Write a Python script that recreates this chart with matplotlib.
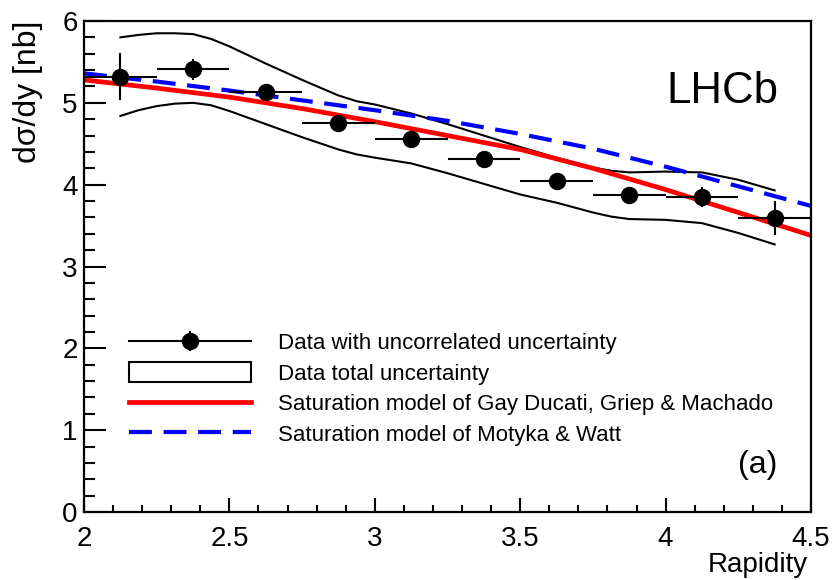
import matplotlib.pyplot as plt
from matplotlib.lines import Line2D
from matplotlib.patches import Patch
from matplotlib.legend_handler import HandlerTuple
from matplotlib.ticker import MultipleLocator, FormatStrFormatter

plt.rcParams['font.family'] = ['Liberation Sans', 'DejaVu Sans']

# Measured cross-section in rapidity bins of width 0.25
bin_centres = [2.125, 2.375, 2.625, 2.875, 3.125, 3.375, 3.625, 3.875, 4.125, 4.375]
bin_half_width = 0.125
xsec = [5.32, 5.41, 5.13, 4.75, 4.56, 4.31, 4.04, 3.87, 3.85, 3.59]
xsec_uncorr = [0.29, 0.13, 0.07, 0.07, 0.07, 0.07, 0.07, 0.07, 0.12, 0.21]

# Total uncertainty envelope
band_x = [2.125, 2.1875, 2.25, 2.3125, 2.375, 2.4375, 2.5, 2.625, 2.75, 2.875,
          2.9375, 3.0, 3.125, 3.25, 3.375, 3.5, 3.625, 3.75, 3.8125, 3.875,
          4.0, 4.125, 4.25, 4.375]
band_upper = [5.80, 5.83, 5.85, 5.85, 5.84, 5.78, 5.69, 5.48, 5.28, 5.09,
              5.02, 4.98, 4.87, 4.74, 4.60, 4.46, 4.33, 4.21, 4.17, 4.15,
              4.16, 4.15, 4.06, 3.93]
band_lower = [4.84, 4.91, 4.96, 4.99, 5.00, 4.97, 4.90, 4.74, 4.58, 4.43,
              4.37, 4.33, 4.26, 4.14, 4.01, 3.88, 3.78, 3.66, 3.61, 3.58,
              3.57, 3.53, 3.41, 3.27]

# Theory predictions
model_x = [2.0, 2.25, 2.5, 2.75, 3.0, 3.25, 3.5, 3.75, 4.0, 4.25, 4.5]
gdgm = [5.28, 5.18, 5.07, 4.93, 4.77, 4.60, 4.43, 4.20, 3.94, 3.66, 3.38]
motyka_watt = [5.36, 5.26, 5.15, 5.03, 4.91, 4.78, 4.62, 4.44, 4.22, 3.98, 3.74]

fig = plt.figure(figsize=(8.36, 5.8), dpi=100)
ax = fig.add_axes([0.1005, 0.1172, 0.8696, 0.8466])

ax.plot(band_x, band_upper, color='black', lw=1.5)
ax.plot(band_x, band_lower, color='black', lw=1.5)
ax.plot(model_x, gdgm, color='#ff0000', lw=3.4, solid_capstyle='butt')
ax.plot(model_x, motyka_watt, color='#0000ff', lw=3.0, dashes=(5.5, 2.8))
ax.errorbar(bin_centres, xsec, xerr=bin_half_width, yerr=xsec_uncorr, fmt='o',
            color='black', ms=11.5, elinewidth=1.5, capsize=0)

ax.set_xlim(2, 4.5)
ax.set_ylim(0, 6)

# ticks inside, only bottom and left
ax.xaxis.set_major_locator(MultipleLocator(0.5))
ax.xaxis.set_minor_locator(MultipleLocator(0.1))
ax.yaxis.set_major_locator(MultipleLocator(1))
ax.yaxis.set_minor_locator(MultipleLocator(0.2))
ax.xaxis.set_major_formatter(FormatStrFormatter('%g'))
ax.tick_params(axis='x', which='major', direction='in', length=10, width=1.5, labelsize=20, pad=10)
ax.tick_params(axis='x', which='minor', direction='in', length=5, width=1.5)
ax.tick_params(axis='y', which='major', direction='in', length=16, width=1.5, labelsize=20, pad=4.5)
ax.tick_params(axis='y', which='minor', direction='in', length=8, width=1.5)
for spine in ax.spines.values():
    spine.set_linewidth(1.6)

ax.set_xlabel('Rapidity', fontsize=20, ha='right')
ax.xaxis.set_label_coords(0.996, -0.081)
ax.set_ylabel('dσ/dy [nb]', fontsize=23, loc='top')
ax.yaxis.set_label_coords(-0.0564, 1.0)

ax.text(0.8015, 0.8324, 'LHCb', transform=ax.transAxes, fontsize=31.5, va='baseline')
ax.text(0.9, 0.0788, '(a)', transform=ax.transAxes, fontsize=23, va='baseline')

# legend handles
data_handle = (Line2D([], [], color='black', lw=1.5),
               Line2D([], [], color='black', marker='|', ms=14, mew=1.5, ls='none'),
               Line2D([], [], color='black', marker='o', ms=11.5, ls='none'))
band_handle = Patch(facecolor='white', edgecolor='black', lw=1.5)
gdgm_handle = Line2D([], [], color='#ff0000', lw=3.4)
mw_handle = Line2D([], [], color='#0000ff', lw=3.0, dashes=(5.5, 2.8))

ax.legend([data_handle, band_handle, gdgm_handle, mw_handle],
          ['Data with uncorrelated uncertainty',
           'Data total uncertainty',
           'Saturation model of Gay Ducati, Griep & Machado',
           'Saturation model of Motyka & Watt'],
          handler_map={tuple: HandlerTuple(ndivide=1, pad=0)},
          loc='upper left', bbox_to_anchor=(0.062, 0.367), frameon=False,
          fontsize=16, handlelength=5.5, handleheight=1.0, handletextpad=1.2,
          labelspacing=0.36, borderpad=0, borderaxespad=0, numpoints=1)

fig.savefig('out.png', dpi=100)
